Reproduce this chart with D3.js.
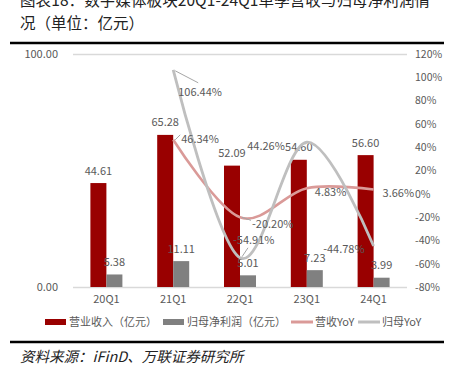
<!DOCTYPE html>
<html>
<head>
<meta charset="utf-8">
<script src="https://cdn.jsdelivr.net/npm/d3@7/dist/d3.min.js"></script>
<style>
  body { margin: 0; background: #fff; }
  svg { display: block; font-family: "Noto Sans CJK SC", "Noto Sans", sans-serif; }
</style>
</head>
<body>
<svg id="chart" width="454" height="370"></svg>
<script>
// chart data
const categories = ['20Q1', '21Q1', '22Q1', '23Q1', '24Q1']
const revenue = [44.61, 65.28, 52.09, 54.60, 56.60]
const netProfit = [5.38, 11.11, 5.01, 7.23, 3.99]
const revYoY = [null, 46.34, -20.20, 4.83, 3.66]
const npYoY = [null, 106.44, -54.91, 44.26, -44.78]
const leftTicks = [0, 100]
const rightTicks = [-80, -60, -40, -20, 0, 20, 40, 60, 80, 100, 120]

const svg = d3.select('#chart')
const plot = { left: 73, right: 407, top: 54, bottom: 287 }
const labelColor = '#595959'
const redColor = '#990000'
const grayBar = '#808080'
const pinkLine = '#DA9A98'
const grayLine = '#BFBFBF'

// title (first line is clipped at the top in the original)
svg.append('text')
  .attr('x', 20).attr('y', 6)
  .attr('textLength', 410).attr('lengthAdjust', 'spacing')
  .style('font-size', '15.5px').attr('fill', '#222')
  .text('图表18：数字媒体板块20Q1-24Q1单季营收与归母净利润情')
svg.append('text')
  .attr('x', 20).attr('y', 29)
  .style('font-size', '15.5px').attr('fill', '#222')
  .text('况（单位：亿元）')

svg.append('line')
  .attr('x1', 10).attr('x2', 444).attr('y1', 43).attr('y2', 43)
  .attr('stroke', '#000').attr('stroke-width', 2.6)

// scales
const x = d3.scaleBand().domain(categories).range([plot.left, plot.right])
const yLeft = d3.scaleLinear().domain([0, 100]).range([plot.bottom, plot.top])
const yRight = d3.scaleLinear().domain([-80, 120]).range([plot.bottom, plot.top])
const barW = 16
const sub = d3.scaleBand().domain([0, 1])
  .range([x.bandwidth() / 2 - barW, x.bandwidth() / 2 + barW])

// left axis + gridlines
const leftAxis = svg.append('g')
  .attr('transform', `translate(${plot.left},0)`)
  .call(d3.axisLeft(yLeft).tickValues(leftTicks).tickFormat(d3.format('.2f'))
    .tickSize(-(plot.right - plot.left)).tickPadding(15))
leftAxis.select('.domain').remove()
leftAxis.selectAll('.tick line').attr('stroke', '#D9D9D9').attr('stroke-width', 1.3)
leftAxis.selectAll('.tick text').attr('fill', labelColor).style('font-size', '11px')
  .style('font-family', '"Noto Sans CJK SC", sans-serif')

// right axis
const rightAxis = svg.append('g')
  .attr('transform', `translate(${plot.right},0)`)
  .call(d3.axisRight(yRight).tickValues(rightTicks).tickFormat(d => d + '%')
    .tickSize(0).tickPadding(8))
rightAxis.select('.domain').remove()
rightAxis.selectAll('.tick text').attr('fill', labelColor).style('font-size', '10.5px')
  .style('font-family', '"Noto Sans CJK SC", sans-serif')

// x axis labels
const bottomAxis = svg.append('g')
  .attr('transform', `translate(0,${plot.bottom})`)
  .call(d3.axisBottom(x).tickSize(0).tickPadding(8))
bottomAxis.select('.domain').remove()
bottomAxis.selectAll('.tick text').attr('fill', labelColor).style('font-size', '11px')
  .style('font-family', '"Noto Sans CJK SC", sans-serif')

// bars
const barSeries = [
  { values: revenue, color: redColor },
  { values: netProfit, color: grayBar }
]
barSeries.forEach((s, k) => {
  svg.append('g').selectAll('rect')
    .data(s.values)
    .enter()
    .append('rect')
      .attr('x', (d, i) => x(categories[i]) + sub(k))
      .attr('y', d => yLeft(d))
      .attr('width', sub.bandwidth())
      .attr('height', d => plot.bottom - yLeft(d))
      .attr('fill', s.color)
  svg.append('g').selectAll('text')
    .data(s.values)
    .enter()
    .append('text')
      .attr('x', (d, i) => x(categories[i]) + sub(k) + sub.bandwidth() / 2)
      .attr('y', d => yLeft(d) - 8.5)
      .attr('text-anchor', 'middle')
      .attr('fill', labelColor)
      .style('font-size', '11px')
      .text(d => d.toFixed(2))
})

// smooth lines
const cx = i => x(categories[i]) + x.bandwidth() / 2
const line = d3.line()
  .defined(d => d != null)
  .x((d, i) => cx(i))
  .y(d => yRight(d))
  .curve(d3.curveCardinal.tension(0))

svg.append('path').datum(revYoY)
  .attr('d', line).attr('fill', 'none')
  .attr('stroke', pinkLine).attr('stroke-width', 2.6)
svg.append('path').datum(npYoY)
  .attr('d', line).attr('fill', 'none')
  .attr('stroke', grayLine).attr('stroke-width', 2.8)

// data labels for the lines: [dx, dy, anchor, leader]
const revLabelPos = [null, [8, -1, 'start', true], [12, 7, 'start', true], [8, 4, 'start', false], [9, 3, 'start', false]]
const npLabelPos = [null, [5, 22, 'start', true], [-7, -18, 'start', true], [-22, 4, 'end', false], [-9, 3, 'end', false]]

function lineLabels(values, pos) {
  values.forEach((v, i) => {
    if (v == null) return
    const p = pos[i]
    const px = cx(i), py = yRight(v)
    if (p[3]) {
      const lx = p[2] === 'start' ? px + p[0] + (p[1] > 10 ? 20 : p[1] < -10 ? 15 : -1) : px + p[0]
      const ly = py + p[1] + (p[1] > 10 ? -9 : p[1] < -10 ? 8 : -4)
      svg.append('line')
        .attr('x1', px + 2).attr('y1', py + (p[1] > 0 ? 1 : -1) * (p[1] > 10 || p[1] < -10 ? 1 : 0))
        .attr('x2', lx).attr('y2', ly)
        .attr('stroke', '#A6A6A6').attr('stroke-width', 1)
    }
    svg.append('text')
      .attr('x', px + p[0]).attr('y', py + p[1] + 4)
      .attr('text-anchor', p[2])
      .attr('fill', labelColor)
      .style('font-size', '11px')
      .text(v.toFixed(2) + '%')
  })
}
lineLabels(revYoY, revLabelPos)
lineLabels(npYoY, npLabelPos)

// legend
const legendItems = [
  { name: '营业收入（亿元）', color: redColor, type: 'rect', x: 45 },
  { name: '归母净利润（亿元）', color: grayBar, type: 'rect', x: 163 },
  { name: '营收YoY', color: pinkLine, type: 'line', x: 291 },
  { name: '归母YoY', color: grayLine, type: 'line', x: 358 }
]
const legendY = 322
const legend = svg.append('g')
legendItems.forEach(d => {
  if (d.type === 'rect') {
    legend.append('rect').attr('x', d.x).attr('y', legendY - 3)
      .attr('width', 21).attr('height', 6).attr('fill', d.color)
  } else {
    legend.append('line').attr('x1', d.x).attr('x2', d.x + 22)
      .attr('y1', legendY).attr('y2', legendY)
      .attr('stroke', d.color).attr('stroke-width', 3)
  }
  legend.append('text').attr('x', d.x + 24).attr('y', legendY + 4)
    .attr('fill', labelColor).style('font-size', '11px').text(d.name)
})

svg.append('line')
  .attr('x1', 10).attr('x2', 444).attr('y1', 342).attr('y2', 342)
  .attr('stroke', '#000').attr('stroke-width', 2.6)

svg.append('text')
  .attr('x', 20).attr('y', 362)
  .style('font-size', '14.5px').style('font-style', 'italic').attr('fill', '#222')
  .text('资料来源：iFinD、万联证券研究所')
</script>
</body>
</html>
